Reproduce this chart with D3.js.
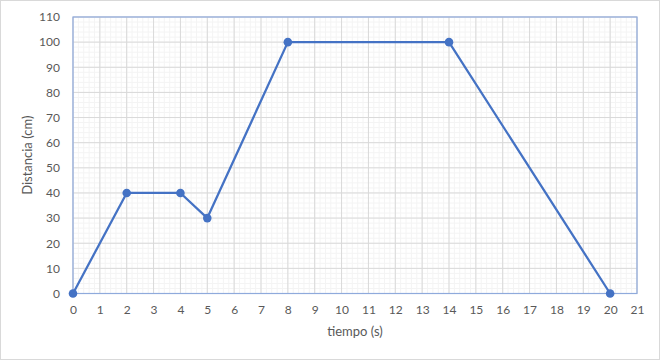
<!DOCTYPE html>
<html><head><meta charset="utf-8">
<script src="https://cdn.jsdelivr.net/npm/d3@7"></script>
<style>body{margin:0;background:#fff;} text{font-family:Lato,"Open Sans",sans-serif;fill:#595959;}</style>
</head><body><svg id="c" width="663" height="362"></svg>
<script>
const tiempo = [0, 2, 4, 5, 8, 14, 20];
const distancia = [0, 40, 40, 30, 100, 100, 0];
const xTicks = d3.range(0, 22, 1);
const yTicks = d3.range(0, 111, 10);
const xTitle = "tiempo (s)";
const yTitle = "Distancia (cm)";

const svg = d3.select("#c");
const m = {l: 73, r: 637, t: 17, b: 293.5};
const x = d3.scaleLinear().domain([0, 21]).range([m.l, m.r]);
const y = d3.scaleLinear().domain([0, 110]).range([m.b, m.t]);

svg.append("rect").attr("x", 0.5).attr("y", 0.5).attr("width", 659).attr("height", 359)
  .attr("fill", "#fff").attr("stroke", "#D9D9D9");

// minor grid
const g = svg.append("g");
g.selectAll(".mx").data(d3.range(0, 21.001, 0.2)).join("line")
  .attr("x1", d => x(d)).attr("x2", d => x(d)).attr("y1", m.t).attr("y2", m.b)
  .attr("stroke", "#F4F4F4").attr("stroke-width", 1);
g.selectAll(".my").data(d3.range(0, 110.001, 2)).join("line")
  .attr("y1", d => y(d)).attr("y2", d => y(d)).attr("x1", m.l).attr("x2", m.r)
  .attr("stroke", "#F4F4F4").attr("stroke-width", 1);
// major grid
g.selectAll(".Mx").data(xTicks).join("line")
  .attr("x1", d => x(d)).attr("x2", d => x(d)).attr("y1", m.t).attr("y2", m.b)
  .attr("stroke", "#D9D9D9").attr("stroke-width", 1);
g.selectAll(".My").data(yTicks).join("line")
  .attr("y1", d => y(d)).attr("y2", d => y(d)).attr("x1", m.l).attr("x2", m.r)
  .attr("stroke", "#D9D9D9").attr("stroke-width", 1);

// plot border
svg.append("rect").attr("x", m.l).attr("y", m.t).attr("width", m.r - m.l).attr("height", m.b - m.t)
  .attr("fill", "none").attr("stroke", "#8FAADC").attr("stroke-width", 1.2);

// axes
const xa = svg.append("g").attr("transform", `translate(0,${m.b})`)
  .call(d3.axisBottom(x).tickValues(xTicks).tickSize(0).tickPadding(12).tickFormat(d3.format("d")));
const ya = svg.append("g").attr("transform", `translate(${m.l},0)`)
  .call(d3.axisLeft(y).tickValues(yTicks).tickSize(0).tickPadding(13).tickFormat(d3.format("d")));
[xa, ya].forEach(a => {
  a.select(".domain").remove();
  a.selectAll("text").style("font-size", "12px").style("fill", "#595959");
});

svg.append("text").attr("x", (m.l + m.r) / 2).attr("y", 336).attr("text-anchor", "middle")
  .style("font-size", "13px").text(xTitle);
svg.append("text").attr("transform", `translate(32,${(m.t + m.b) / 2}) rotate(-90)`)
  .attr("text-anchor", "middle").style("font-size", "13px").text(yTitle);

const pts = tiempo.map((t, i) => [t, distancia[i]]);
svg.append("path").datum(pts)
  .attr("d", d3.line().x(d => x(d[0])).y(d => y(d[1])))
  .attr("fill", "none").attr("stroke", "#4472C4").attr("stroke-width", 2.25).attr("stroke-linejoin", "round");
svg.selectAll(".pt").data(pts).join("circle")
  .attr("cx", d => x(d[0])).attr("cy", d => y(d[1])).attr("r", 4.3).attr("fill", "#4472C4");
</script></body></html>
